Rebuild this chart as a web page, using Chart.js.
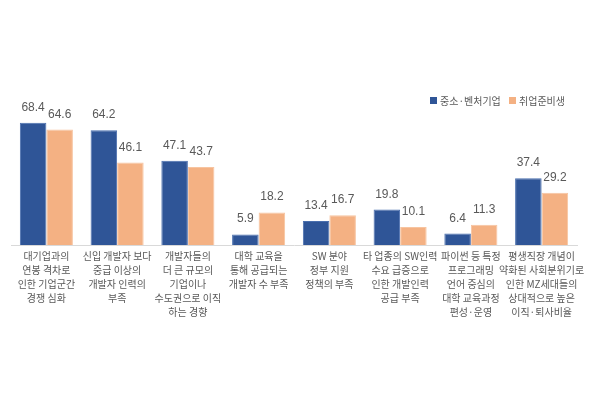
<!DOCTYPE html>
<html>
<head>
<meta charset="utf-8">
<script src="https://cdn.jsdelivr.net/npm/chart.js@4"></script>
<style>
  html, body { margin: 0; padding: 0; background: #fff; }
  .wrap { width: 600px; height: 400px; }
</style>
</head>
<body>
<div class="wrap"><canvas id="chart" width="600" height="400"></canvas></div>
<script>
const categories = [
  ['대기업과의', '연봉 격차로', '인한 기업군간', '경쟁 심화'],
  ['신입 개발자 보다', '중급 이상의', '개발자 인력의', '부족'],
  ['개발자들의', '더 큰 규모의', '기업이나', '수도권으로 이직', '하는 경향'],
  ['대학 교육을', '통해 공급되는', '개발자 수 부족'],
  ['SW 분야', '정부 지원', '정책의 부족'],
  ['타 업종의 SW인력', '수요 급증으로', '인한 개발인력', '공급 부족'],
  ['파이썬 등 특정', '프로그래밍', '언어 중심의', '대학 교육과정', '편성·운영'],
  ['평생직장 개념이', '약화된 사회분위기로', '인한 MZ세대들의', '상대적으로 높은', '이직·퇴사비율']
];
const smeValues = [68.4, 64.2, 47.1, 5.9, 13.4, 19.8, 6.4, 37.4];
const jobSeekerValues = [64.6, 46.1, 43.7, 18.2, 16.7, 10.1, 11.3, 29.2];
const seriesNames = ['중소·벤처기업', '취업준비생'];

const BLUE = '#2F5597';
const ORANGE = '#F4B183';
const TEXT = '#595959';
const KFONT = '"Noto Sans CJK KR", "Noto Sans", sans-serif';

// value labels above each bar
const valueLabels = {
  id: 'valueLabels',
  afterDatasetsDraw(chart) {
    const ctx = chart.ctx;
    ctx.save();
    ctx.fillStyle = TEXT;
    ctx.font = '12px "Liberation Sans", Arial, sans-serif';
    ctx.textAlign = 'center';
    ctx.textBaseline = 'alphabetic';
    chart.data.datasets.forEach((ds, i) => {
      chart.getDatasetMeta(i).data.forEach((bar, j) => {
        ctx.fillText(ds.data[j].toFixed(1), bar.x, bar.y - 12);
      });
    });
    ctx.restore();
  }
};

// small square legend at top right
const squareLegend = {
  id: 'squareLegend',
  afterDraw(chart) {
    const ctx = chart.ctx;
    const items = [
      { x: 430, color: BLUE, text: seriesNames[0] },
      { x: 509, color: ORANGE, text: seriesNames[1] }
    ];
    ctx.save();
    ctx.font = '10px ' + KFONT;
    ctx.textBaseline = 'middle';
    items.forEach(it => {
      ctx.fillStyle = it.color;
      ctx.fillRect(it.x, 97, 7, 7);
      ctx.fillStyle = TEXT;
      ctx.fillText(it.text, it.x + 10, 101);
    });
    ctx.restore();
  }
};

new Chart(document.getElementById('chart'), {
  type: 'bar',
  data: {
    labels: categories,
    datasets: [
      {
        label: seriesNames[0],
        data: smeValues,
        backgroundColor: BLUE,
        borderColor: '#4a6fae',
        borderWidth: 1
      },
      {
        label: seriesNames[1],
        data: jobSeekerValues,
        backgroundColor: ORANGE,
        borderColor: '#f7c4a0',
        borderWidth: 1
      }
    ]
  },
  options: {
    responsive: false,
    animation: false,
    layout: { padding: { left: 11, right: 23, top: 102, bottom: 0 } },
    categoryPercentage: 0.75,
    barPercentage: 1,
    plugins: {
      legend: { display: false },
      tooltip: { enabled: false }
    },
    scales: {
      y: {
        display: false,
        min: 0,
        max: 80
      },
      x: {
        grid: { display: false, drawTicks: false },
        border: { display: true, color: '#d9d9d9', width: 1 },
        ticks: {
          color: TEXT,
          font: { family: KFONT, size: 10, lineHeight: 1.4 },
          padding: 4,
          maxRotation: 0,
          autoSkip: false
        },
        afterFit(scale) { scale.height = 155; }
      }
    }
  },
  plugins: [valueLabels, squareLegend]
});
</script>
</body>
</html>
